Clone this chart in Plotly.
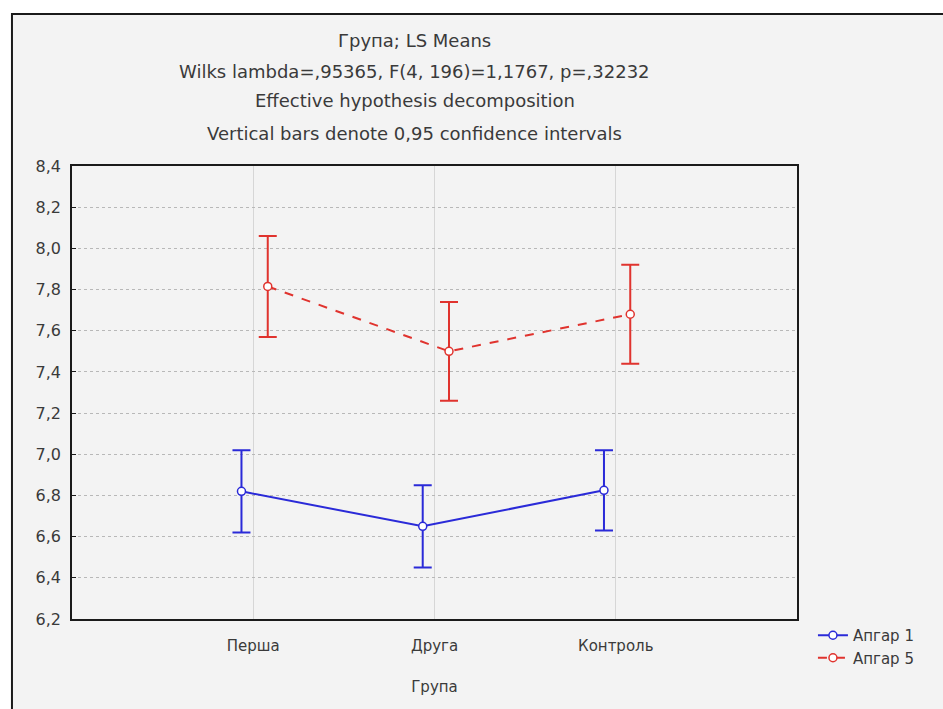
import plotly.graph_objects as go

# Group labels and LS means with 95% confidence half-widths
groups = ["Перша", "Друга", "Контроль"]
apgar1_mean = [6.82, 6.65, 6.825]
apgar1_ci = [0.20, 0.20, 0.195]
apgar5_mean = [7.815, 7.50, 7.68]
apgar5_ci = [0.245, 0.24, 0.24]
series_names = ["Апгар 1", "Апгар 5"]

y_ticks = [6.2, 6.4, 6.6, 6.8, 7.0, 7.2, 7.4, 7.6, 7.8, 8.0, 8.2, 8.4]
title_lines = [
    "Група; LS Means",
    "Wilks lambda=,95365, F(4, 196)=1,1767, p=,32232",
    "Effective hypothesis decomposition",
    "Vertical bars denote 0,95 confidence intervals",
]

FONT = "DejaVu Sans"
BG = "#f3f3f3"
TXT = "#3a3a3a"

pos = list(range(len(groups)))
shift1, shift5 = -0.065, 0.08

fig = go.Figure()
fig.add_trace(go.Scatter(
    x=[p + shift1 for p in pos], y=apgar1_mean, name=series_names[0],
    mode="lines+markers",
    line=dict(color="#2a2ad8", width=2),
    marker=dict(symbol="circle", size=8, color="white",
                line=dict(color="#2a2ad8", width=1.5)),
    error_y=dict(type="data", array=apgar1_ci, color="#2a2ad8",
                 thickness=2, width=9),
))
fig.add_trace(go.Scatter(
    x=[p + shift5 for p in pos], y=apgar5_mean, name=series_names[1],
    mode="lines+markers",
    line=dict(color="#e0332e", width=2, dash="dash"),
    marker=dict(symbol="circle", size=8, color="white",
                line=dict(color="#e0332e", width=1.5)),
    error_y=dict(type="data", array=apgar5_ci, color="#e0332e",
                 thickness=2, width=9),
))

# outer panel with a dark frame on the left and top
fig.add_shape(type="rect", xref="paper", yref="paper",
              x0=-0.0828, x1=1.4, y0=-0.3, y1=1.3355,
              fillcolor=BG, line=dict(color="#1a1a1a", width=2),
              layer="below")

title_y = [1.278, 1.2097, 1.1435, 1.0728]
for txt, yy in zip(title_lines, title_y):
    fig.add_annotation(text=txt, xref="paper", yref="paper", x=0.473, y=yy,
                       showarrow=False, xanchor="center", yanchor="middle",
                       font=dict(family=FONT, size=18, color=TXT))

fig.update_layout(
    width=943, height=709,
    margin=dict(l=72, r=146, t=166, b=90),
    paper_bgcolor="white", plot_bgcolor=BG,
    separators=", ",
    font=dict(family=FONT, size=15, color=TXT),
    showlegend=True,
    legend=dict(x=1.022, y=0.0, xanchor="left", yanchor="top",
                bgcolor="rgba(0,0,0,0)", font=dict(size=15, color=TXT),
                tracegroupgap=0, itemwidth=30),
    xaxis=dict(
        range=[-1, 3], tickvals=pos, ticktext=groups,
        showline=True, mirror=True, linecolor="#1a1a1a", linewidth=1.5,
        showgrid=True, gridcolor="#d6d6d6", gridwidth=1,
        ticks="", zeroline=False, ticklabelstandoff=12,
        tickfont=dict(size=15),
        title=dict(text="Група", standoff=28, font=dict(size=15, color=TXT)),
    ),
    yaxis=dict(
        range=[6.2, 8.4], tickvals=y_ticks, tickformat=".1f",
        showline=True, mirror=True, linecolor="#1a1a1a", linewidth=1.5,
        showgrid=True, gridcolor="#b8b8b8", gridwidth=1, griddash="dot",
        ticks="inside", ticklen=4, tickcolor="#1a1a1a",
        ticklabelstandoff=6, zeroline=False, tickfont=dict(size=16),
    ),
)

fig.write_html("out.html")
